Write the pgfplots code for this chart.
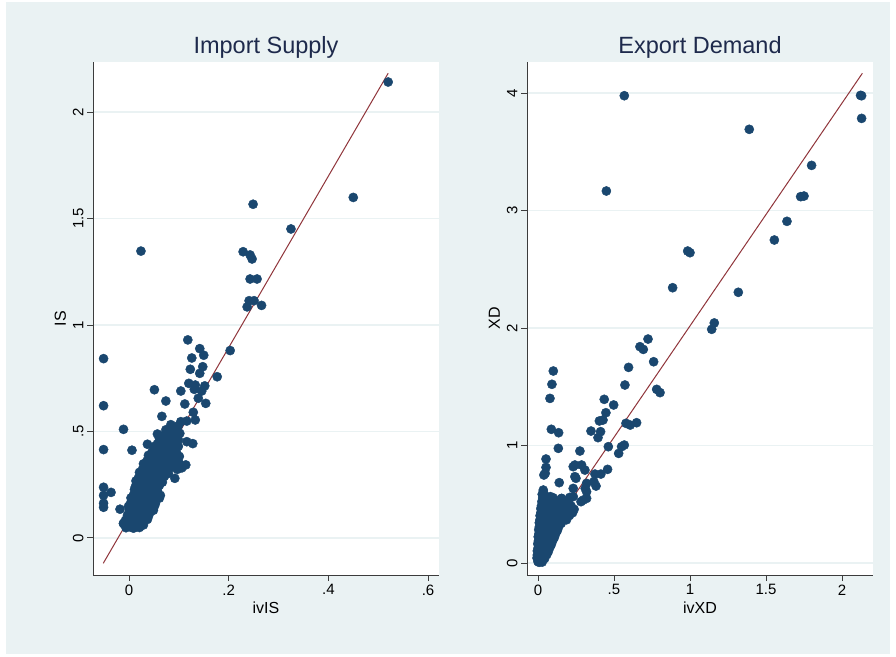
\documentclass[border=0pt]{standalone}
\usepackage{pgfplots}
\pgfplotsset{compat=1.18}
\usepackage{fontspec}
\setmainfont{Liberation Sans}
\definecolor{bgc}{RGB}{234,242,243}
\definecolor{gridc}{RGB}{234,242,243}
\definecolor{mkc}{RGB}{26,71,111}
\definecolor{fitc}{RGB}{144,53,59}
\definecolor{axc}{RGB}{60,60,60}
\definecolor{titc}{RGB}{30,42,76}
\pgfplotsset{
  stata/.style={
    scale only axis, width=346pt, height=513pt,
    axis background/.style={fill=white},
    axis x line*=bottom, axis y line*=left,
    axis line style={line width=0.9pt, color=axc, -},
    tick align=outside, major tick length=6pt,
    tick style={line width=0.9pt, color=axc},
    ymajorgrids, grid style={line width=1.3pt, color=gridc},
    yticklabel style={rotate=90, anchor=south, font=\fontsize{15}{15}\selectfont},
    xticklabel style={font=\fontsize{15}{15}\selectfont},
    label style={font=\fontsize{16}{16}\selectfont},
    title style={font=\fontsize{23.5}{23.5}\selectfont, color=titc, at={(0.5,1)}, anchor=base, yshift=2pt},
    mk/.style={only marks, mark=*, mark size=4.6pt, color=mkc, mark options={fill=mkc, draw=mkc}},
    fit/.style={no marks, color=fitc, line width=1pt},
  }
}
\begin{document}
\begin{tikzpicture}[x=1pt,y=1pt]
\fill[white] (0,0) rectangle (896,656);
\fill[bgc] (6,2) rectangle (890,654);
\begin{axis}[stata, at={(93pt,81pt)}, anchor=south west,
  title={Import Supply}, xlabel={ivIS}, ylabel={IS},
  xmin=-0.0722, xmax=0.622, ymin=-0.174, ymax=2.235,
  xtick={0,0.2,0.4,0.6}, xticklabels={0,.2,.4,.6},
  ytick={0,0.5,1,1.5,2}, yticklabels={0,.5,1,1.5,2}]
\addplot[mk] coordinates {
(0.520,2.141) (0.450,1.599) (0.249,1.567) (0.325,1.451) (0.024,1.347) (0.229,1.344)
(0.243,1.329) (0.247,1.310) (0.243,1.216) (0.257,1.216) (0.241,1.114) (0.251,1.114)
(0.237,1.085) (0.266,1.092) (0.203,0.880) (0.118,0.930) (0.142,0.889) (0.150,0.858)
(0.126,0.845) (-0.051,0.842) (0.123,0.792) (0.148,0.804) (0.142,0.773) (0.177,0.757)
(0.120,0.726) (0.133,0.718) (0.152,0.714) (0.131,0.698) (0.146,0.690) (0.051,0.696)
(0.104,0.690) (0.074,0.643) (0.139,0.656) (0.154,0.632) (0.112,0.629) (-0.051,0.621)
(0.129,0.590) (0.066,0.571) (0.133,0.554) (0.104,0.546) (0.116,0.549) (0.086,0.523)
(0.092,0.510) (-0.011,0.510) (0.102,0.491) (0.057,0.488) (0.116,0.452) (0.128,0.443)
(0.037,0.440) (0.062,0.460) (-0.051,0.415) (0.006,0.412) (-0.051,0.238) (-0.051,0.200)
(-0.051,0.163) (-0.051,0.144) (-0.036,0.214) (-0.018,0.135) (-0.011,0.069) (0.114,0.343)
(0.106,0.329) (0.092,0.280)
(-0.006,0.048) (0.002,0.052) (0.009,0.046) (0.016,0.053) (0.021,0.049)
(-0.011,0.067) (-0.003,0.062) (0.007,0.069) (0.013,0.063) (0.023,0.068) (0.029,0.061)
(-0.007,0.083) (0.003,0.089) (0.011,0.082) (0.021,0.088) (0.027,0.081) (0.037,0.087)
(-0.003,0.107) (0.005,0.101) (0.015,0.109) (0.021,0.103) (0.031,0.108) (0.039,0.101)
(0.001,0.127) (0.009,0.121) (0.015,0.129) (0.025,0.123) (0.031,0.128) (0.043,0.122) (0.049,0.13)
(-0.001,0.148) (0.007,0.142) (0.013,0.149) (0.023,0.143) (0.029,0.147) (0.041,0.141) (0.051,0.149)
(0.003,0.162) (0.009,0.168) (0.019,0.161) (0.025,0.167) (0.035,0.163) (0.045,0.169) (0.053,0.161)
(0.004,0.188) (0.014,0.182) (0.02,0.189) (0.031,0.183) (0.039,0.188) (0.051,0.181) (0.061,0.187)
(0.009,0.202) (0.015,0.209) (0.025,0.201) (0.032,0.208) (0.044,0.203) (0.054,0.207) (0.063,0.2)
(0.011,0.228) (0.017,0.222) (0.028,0.229) (0.035,0.221) (0.047,0.227) (0.057,0.223)
(0.013,0.242) (0.021,0.249) (0.029,0.241) (0.041,0.248) (0.049,0.243) (0.061,0.247)
(0.014,0.268) (0.025,0.261) (0.032,0.269) (0.044,0.262) (0.054,0.268) (0.067,0.262)
(0.019,0.282) (0.027,0.289) (0.039,0.281) (0.047,0.288) (0.061,0.283) (0.071,0.289)
(0.021,0.308) (0.033,0.301) (0.041,0.309) (0.053,0.302) (0.063,0.308) (0.079,0.303)
(0.027,0.322) (0.035,0.329) (0.047,0.321) (0.057,0.328) (0.071,0.323) (0.083,0.329) (0.097,0.322)
(0.029,0.348) (0.041,0.341) (0.049,0.349) (0.063,0.342) (0.074,0.348) (0.089,0.341) (0.101,0.35)
(0.036,0.362) (0.045,0.369) (0.058,0.361) (0.067,0.368) (0.081,0.362) (0.093,0.369)
(0.039,0.388) (0.053,0.381) (0.063,0.389) (0.077,0.382) (0.087,0.388) (0.101,0.383)
(0.046,0.402) (0.056,0.409) (0.071,0.401) (0.081,0.408) (0.095,0.403)
(0.049,0.428) (0.063,0.421) (0.073,0.429) (0.087,0.422) (0.099,0.43)
(0.057,0.442) (0.067,0.449) (0.081,0.441) (0.091,0.448)
(0.061,0.468) (0.075,0.462) (0.085,0.469) (0.099,0.461)
(0.069,0.482) (0.079,0.489) (0.093,0.483)
(0.074,0.508) (0.088,0.502) (0.084,0.532) (0.099,0.527)
};
\addplot[fit] coordinates {(-0.0516,-0.119) (0.520,2.182)};
\end{axis}
\begin{axis}[stata, at={(527pt,81pt)}, anchor=south west,
  title={Export Demand}, xlabel={ivXD}, ylabel={XD},
  xmin=-0.072, xmax=2.204, ymin=-0.102, ymax=4.264,
  xtick={0,0.5,1,1.5,2}, xticklabels={0,.5,1,1.5,2},
  ytick={0,1,2,3,4}, yticklabels={0,1,2,3,4}]
\addplot[mk] coordinates {
(0.568,3.977) (2.122,3.98) (2.129,3.977) (2.129,3.784) (1.390,3.691) (1.800,3.384)
(0.450,3.166) (1.728,3.118) (1.750,3.123) (1.638,2.908) (1.555,2.749) (0.985,2.655)
(1.000,2.641) (0.886,2.343) (1.318,2.304) (1.160,2.043) (1.143,1.989) (0.724,1.906)
(0.671,1.841) (0.693,1.818) (0.761,1.713) (0.596,1.665) (0.101,1.634) (0.572,1.515)
(0.092,1.521) (0.781,1.478) (0.803,1.450) (0.079,1.401) (0.436,1.393) (0.498,1.345)
(0.447,1.279) (0.404,1.209) (0.428,1.217) (0.579,1.189) (0.607,1.174) (0.649,1.194)
(0.088,1.138) (0.136,1.109) (0.349,1.123) (0.412,1.118) (0.395,1.067) (0.463,0.990)
(0.568,1.004) (0.550,0.990) (0.134,0.976) (0.531,0.933) (0.276,0.953) (0.053,0.885)
(0.053,0.814) (0.048,0.763) (0.232,0.820) (0.243,0.834) (0.287,0.834) (0.309,0.791)
(0.375,0.757) (0.414,0.757) (0.458,0.797) (0.250,0.721) (0.368,0.692) (0.382,0.655)
(0.140,0.684) (0.311,0.635) (0.232,0.635) (0.035,0.621) (0.320,0.550) (0.283,0.522)
(0.32,0.607) (0.298,0.536) (0.32,0.678) (0.243,0.735) (0.039,0.749) (0.21,0.559)
(0.232,0.565) (0.156,0.55)
(0.0,0.012) (0.008,0.006) (0.019,0.014) (0.028,0.008)
(-0.006,0.043) (0.004,0.037) (0.016,0.044) (0.024,0.036) (0.036,0.043) (0.044,0.038)
(-0.004,0.068) (0.006,0.074) (0.014,0.066) (0.031,0.073) (0.044,0.067) (0.058,0.072)
(-0.004,0.103) (0.009,0.097) (0.019,0.104) (0.036,0.098) (0.049,0.103) (0.068,0.097)
(0.001,0.127) (0.009,0.134) (0.026,0.127) (0.039,0.133) (0.061,0.128) (0.079,0.134)
(-0.001,0.163) (0.013,0.157) (0.029,0.164) (0.051,0.157) (0.069,0.163) (0.088,0.158)
(0.003,0.187) (0.014,0.193) (0.036,0.186) (0.054,0.193) (0.081,0.187) (0.098,0.193)
(0.002,0.223) (0.019,0.217) (0.039,0.224) (0.061,0.217) (0.084,0.223) (0.108,0.218)
(0.006,0.247) (0.019,0.253) (0.046,0.247) (0.069,0.254) (0.096,0.247) (0.118,0.253)
(0.005,0.283) (0.026,0.277) (0.049,0.284) (0.076,0.277) (0.099,0.284) (0.128,0.278)
(0.009,0.307) (0.029,0.314) (0.056,0.307) (0.084,0.313) (0.111,0.306) (0.138,0.313)
(0.009,0.343) (0.036,0.337) (0.059,0.344) (0.091,0.336) (0.119,0.343) (0.153,0.338)
(0.013,0.367) (0.039,0.373) (0.071,0.367) (0.099,0.374) (0.131,0.366) (0.163,0.372) (0.188,0.368)
(0.014,0.403) (0.046,0.397) (0.074,0.404) (0.111,0.397) (0.139,0.403) (0.178,0.398) (0.207,0.404)
(0.019,0.427) (0.039,0.433) (0.081,0.427) (0.121,0.434) (0.151,0.427) (0.198,0.433) (0.228,0.428)
(0.019,0.463) (0.046,0.457) (0.131,0.463) (0.158,0.458) (0.209,0.463) (0.238,0.457)
(0.023,0.487) (0.049,0.494) (0.084,0.49) (0.139,0.487) (0.168,0.493) (0.218,0.486)
(0.026,0.523) (0.061,0.517) (0.116,0.524) (0.142,0.516) (0.199,0.521)
(0.031,0.553) (0.064,0.547) (0.099,0.556) (0.154,0.548)
(0.028,0.585) (0.04,0.59) (0.082,0.565)
};
\addplot[fit] coordinates {(0.002,0.125) (2.134,4.168)};
\end{axis}
\end{tikzpicture}
\end{document}
